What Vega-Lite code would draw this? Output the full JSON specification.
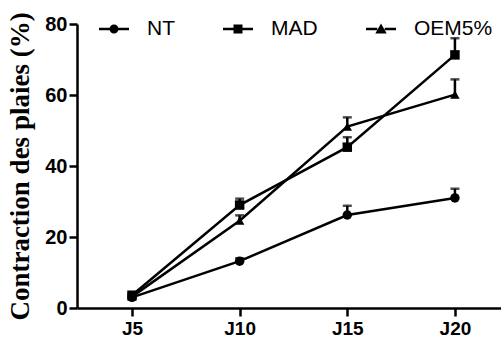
{
  "$schema": "https://vega.github.io/schema/vega-lite/v6.json",
  "width": 424,
  "height": 284,
  "autosize": {"type": "none"},
  "padding": {"left": 77, "top": 24, "right": 0, "bottom": 33},
  "background": "white",
  "config": {
    "view": {"stroke": null},
    "axis": {"grid": false, "domainColor": "black", "domainWidth": 2.5, "tickColor": "black", "tickWidth": 2.5, "tickSize": 8,
      "labelFont": "Liberation Sans", "labelFontWeight": "bold", "labelFontSize": 20, "labelColor": "black"}
  },
  "data": {"values": [
    {"serie": "NT", "jour": 5, "valeur": 3.0, "erreur": 0.5},
    {"serie": "NT", "jour": 10, "valeur": 13.2, "erreur": 0.8},
    {"serie": "NT", "jour": 15, "valeur": 26.2, "erreur": 2.6},
    {"serie": "NT", "jour": 20, "valeur": 31.0, "erreur": 2.6},
    {"serie": "MAD", "jour": 5, "valeur": 3.6, "erreur": 0.5},
    {"serie": "MAD", "jour": 10, "valeur": 29.0, "erreur": 1.8},
    {"serie": "MAD", "jour": 15, "valeur": 45.3, "erreur": 2.8},
    {"serie": "MAD", "jour": 20, "valeur": 71.3, "erreur": 4.7},
    {"serie": "OEM5%", "jour": 5, "valeur": 3.2, "erreur": 0.5},
    {"serie": "OEM5%", "jour": 10, "valeur": 24.6, "erreur": 1.5},
    {"serie": "OEM5%", "jour": 15, "valeur": 51.1, "erreur": 2.6},
    {"serie": "OEM5%", "jour": 20, "valeur": 60.1, "erreur": 4.3}
  ]},
  "transform": [{"calculate": "datum.valeur + datum.erreur", "as": "haut"}],
  "encoding": {
    "x": {"field": "jour", "type": "quantitative",
      "scale": {"domain": [2.445, 22.14], "nice": false, "zero": false},
      "axis": {"values": [5, 10, 15, 20], "labelExpr": "'J' + datum.value", "title": null, "labelPadding": 3, "labelFontSize": 19}},
    "y": {"field": "valeur", "type": "quantitative",
      "scale": {"domain": [0, 80], "nice": false},
      "axis": {"values": [0, 20, 40, 60, 80], "title": "Contraction des plaies (%)", "labelPadding": 2,
        "titleFont": "Liberation Serif", "titleFontWeight": "bold", "titleFontSize": 27, "titleColor": "black", "titlePadding": 10}}
  },
  "layer": [
    {"mark": {"type": "rule", "color": "black", "strokeWidth": 2.5},
     "encoding": {"y2": {"field": "haut"}}},
    {"mark": {"type": "tick", "color": "black", "thickness": 2.5, "size": 9, "orient": "horizontal"},
     "encoding": {"y": {"field": "haut", "type": "quantitative"}}},
    {"mark": {"type": "line", "color": "black", "strokeWidth": 2.5},
     "encoding": {"detail": {"field": "serie"}}},
    {"mark": {"type": "point", "filled": true, "color": "black", "opacity": 1, "size": 90},
     "encoding": {"shape": {"field": "serie", "type": "nominal",
       "scale": {"domain": ["NT", "MAD", "OEM5%"], "range": ["circle", "square", "triangle-up"]}, "legend": null}}},
    {"mark": {"type": "point", "filled": true, "color": "black", "opacity": 0, "size": 1},
     "encoding": {"shape": {"field": "serie", "type": "nominal",
       "scale": {"domain": ["NT", "MAD", "OEM5%"], "range": [
         "M-1,-0.08H-0.25V0.08H-1Z M0.25,-0.08H1V0.08H0.25Z M-0.3,0A0.3,0.3 0 1,1 0.3,0A0.3,0.3 0 1,1 -0.3,0Z",
         "M-1,-0.08H-0.3V0.08H-1Z M0.3,-0.08H1V0.08H0.3Z M-0.3,-0.3H0.3V0.3H-0.3Z",
         "M-1,-0.08H-0.25V0.08H-1Z M0.25,-0.08H1V0.08H0.25Z M0,-0.36L0.38,0.3H-0.38Z"]},
       "legend": {"title": null, "orient": "none", "legendX": 22, "legendY": -10, "direction": "horizontal",
         "symbolSize": 900, "symbolOpacity": 1, "symbolFillColor": "black", "symbolStrokeColor": "black", "symbolStrokeWidth": 0,
         "labelFont": "Liberation Sans", "labelFontSize": 21, "labelColor": "black", "labelOffset": 18,
         "columnPadding": 48, "padding": 0}}}}
  ],
  "resolve": {"scale": {"shape": "independent"}}
}
